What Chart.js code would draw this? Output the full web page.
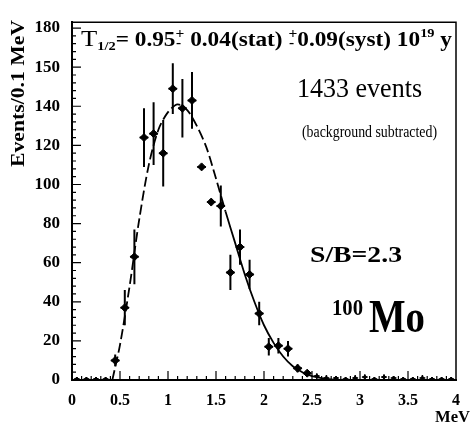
<!DOCTYPE html>
<html>
<head>
<meta charset="utf-8">
<script src="https://cdn.jsdelivr.net/npm/chart.js@4.4.1/dist/chart.umd.min.js"></script>
<style>
  html, body { margin: 0; padding: 0; background: #fff; }
</style>
</head>
<body>
<canvas id="spec" width="471" height="427"></canvas>
<script>
// measured spectrum (bin centres, MeV) and counts per 0.1 MeV
const binX   = [0.45, 0.55, 0.65, 0.75, 0.85, 0.95, 1.05, 1.15, 1.25, 1.35, 1.45, 1.55, 1.65, 1.75, 1.85, 1.95, 2.05, 2.15, 2.25, 2.35, 2.45];
const counts = [10, 37, 63, 124, 126, 116, 149, 139, 143, 109, 91, 89, 55, 68, 54, 34, 17, 17.5, 16, 6, 3.5];
const errs   = [3, 9, 14, 15, 16, 17, 13, 15, 14.5, 1, 1, 10.5, 9, 9, 7.5, 6, 4.5, 4, 4, 2, 1];

// near-zero bins outside the signal region
const tailX   = [0.05, 0.15, 0.25, 0.35, 2.55, 2.65, 2.75, 2.85, 2.95, 3.05, 3.15, 3.25, 3.35, 3.45, 3.55, 3.65, 3.75, 3.85, 3.95];
const tailY   = [0.5, 0.5, 0.5, 0.5, 2, 1, 1, 0.5, 1, 1.5, 0.5, 1.5, 1, 0.5, 0.5, 1, 0.5, 0.5, 0.5];
const tailErr = [1, 1, 1, 1, 1.5, 1.5, 1, 1, 1.5, 1.5, 1, 1.5, 1, 1, 1, 1.5, 1, 1, 1];

// fitted 2nu-bb curve
const fitX = [0.42, 0.5, 0.6, 0.7, 0.8, 0.9, 1.0, 1.1, 1.2, 1.3, 1.4, 1.5, 1.6, 1.7, 1.8, 1.9, 2.0, 2.1, 2.2, 2.3, 2.4, 2.5, 2.6, 2.7, 2.8];
const fitY = [0, 18, 48, 82, 110, 128, 137, 141, 138, 130, 119, 103, 86, 70, 54, 40, 28, 19, 12, 7, 4, 2, 1, 0.3, 0];

// axis ticks (the picture labels the 160 tick as "150")
const xTicks = [0, 0.5, 1, 1.5, 2, 2.5, 3, 3.5, 4];
const xTickLabels = ['0', '0.5', '1', '1.5', '2', '2.5', '3', '3.5', '4'];
const yTicks = [0, 20, 40, 60, 80, 100, 120, 140, 160, 180];
const yTickLabels = ['0', '20', '40', '60', '80', '100', '120', '140', '150', '180'];

const SERIF = '"Liberation Serif", "DejaVu Serif", serif';

const toPts = (xs, ys) => xs.map((x, i) => ({ x: x, y: ys[i] }));

// vertical error bars + bin-width bars
const errorBars = {
  id: 'errorBars',
  afterDatasetsDraw(chart) {
    const { ctx, scales: { x, y } } = chart;
    chart.data.datasets.forEach(ds => {
      if (!ds.errs) return;
      ctx.save();
      ctx.strokeStyle = '#000';
      ctx.lineWidth = ds.errWidth;
      ds.data.forEach((p, i) => {
        const px = x.getPixelForValue(p.x);
        const py = y.getPixelForValue(p.y);
        const e = ds.errs[i];
        ctx.beginPath();
        ctx.moveTo(px, y.getPixelForValue(Math.max(0, p.y - e)));
        ctx.lineTo(px, y.getPixelForValue(p.y + e));
        ctx.moveTo(x.getPixelForValue(p.x - ds.halfBin), py);
        ctx.lineTo(x.getPixelForValue(p.x + ds.halfBin), py);
        ctx.stroke();
      });
      ctx.restore();
    });
  }
};

// inward ticks, frame and annotations
function fitText(ctx, s, x, y, font, width, align) {
  ctx.save();
  ctx.font = font;
  const w = ctx.measureText(s).width;
  const sx = width ? width / w : 1;
  ctx.translate(x, y);
  ctx.scale(sx, 1);
  ctx.textAlign = align || 'left';
  ctx.textBaseline = 'alphabetic';
  ctx.fillText(s, 0, 0);
  ctx.restore();
}

const decorations = {
  id: 'decorations',
  afterDraw(chart) {
    const { ctx, chartArea: a, scales: { x, y } } = chart;
    ctx.save();
    ctx.strokeStyle = '#000';
    ctx.fillStyle = '#000';

    // frame top / right
    ctx.lineWidth = 1.5;
    ctx.beginPath();
    ctx.moveTo(a.left, a.top); ctx.lineTo(a.right, a.top); ctx.lineTo(a.right, a.bottom);
    ctx.stroke();

    // inward ticks
    ctx.lineWidth = 1.2;
    ctx.beginPath();
    for (let k = 1; k < 40; k++) {
      const v = k / 10;
      const px = x.getPixelForValue(v);
      const len = k % 5 === 0 ? 9 : 4;
      ctx.moveTo(px, a.bottom); ctx.lineTo(px, a.bottom - len);
    }
    for (let v = 4; v <= 180; v += 4) {
      const py = y.getPixelForValue(v);
      const len = v % 20 === 0 ? 9 : 4;
      ctx.moveTo(a.left, py); ctx.lineTo(a.left + len, py);
    }
    ctx.stroke();

    // title line  T1/2 = 0.95 +- 0.04(stat) +- 0.09(syst) 10^19 y
    const B = 'bold ';
    const parts = [
      { s: 'T', f: '24px ' + SERIF, dy: 0 },
      { s: '1/2', f: B + '13px ' + SERIF, dy: 4 },
      { s: '= 0.95', f: B + '21px ' + SERIF, dy: 0 },
      { s: 'pm', f: B + '14px ' + SERIF, dy: 0 },
      { s: ' 0.04(stat) ', f: B + '21px ' + SERIF, dy: 0 },
      { s: 'pm', f: B + '14px ' + SERIF, dy: 0 },
      { s: '0.09(syst) 10', f: B + '21px ' + SERIF, dy: 0 },
      { s: '19', f: B + '13px ' + SERIF, dy: -9 },
      { s: ' y', f: B + '21px ' + SERIF, dy: 0 }
    ];
    let total = 0;
    parts.forEach(p => {
      ctx.font = p.f;
      p.w = p.s === 'pm' ? ctx.measureText('+').width : ctx.measureText(p.s).width;
      total += p.w;
    });
    const sx = (452 - 81) / total;
    let cx = 81;
    const base = 46;
    parts.forEach(p => {
      ctx.save();
      ctx.font = p.f;
      ctx.translate(cx, base + p.dy);
      ctx.scale(sx, 1);
      if (p.s === 'pm') {
        ctx.fillText('+', 0, -8);
        ctx.fillText('-', 0.5, 1);
      } else {
        ctx.fillText(p.s, 0, 0);
      }
      ctx.restore();
      cx += p.w * sx;
    });

    fitText(ctx, '1433 events', 297, 97, '28px ' + SERIF, 125);
    fitText(ctx, '(background subtracted)', 302, 137, '16px ' + SERIF, 135);
    fitText(ctx, 'S/B=2.3', 310, 262, 'bold 24px ' + SERIF, 92);
    fitText(ctx, '100', 332, 315, 'bold 24px ' + SERIF, 31);
    fitText(ctx, 'Mo', 369, 332, 'bold 46px ' + SERIF, 56);
    fitText(ctx, 'MeV', 435, 422, 'bold 17px ' + SERIF, 35);

    // y axis title (placed high, as in the picture)
    ctx.save();
    ctx.translate(24, 167);
    ctx.rotate(-Math.PI / 2);
    fitText(ctx, 'Events/0.1 MeV', 0, 0, 'bold 18px ' + SERIF, 147);
    ctx.restore();

    ctx.restore();
  }
};

new Chart(document.getElementById('spec'), {
  type: 'scatter',
  data: {
    datasets: [
      {
        label: 'fit',
        data: toPts(fitX, fitY),
        showLine: true,
        borderColor: '#000',
        borderWidth: 1.8,
        pointRadius: 0,
        tension: 0.3,
        segment: {
          borderDash: c => (c.p0.parsed.x < 1.6 ? [10, 4] : undefined)
        }
      },
      {
        label: 'data',
        data: toPts(binX, counts),
        errs: errs,
        halfBin: 0.045,
        errWidth: 2,
        pointStyle: 'rectRot',
        pointRadius: 4,
        backgroundColor: '#000',
        borderColor: '#000'
      },
      {
        label: 'tail',
        data: toPts(tailX, tailY),
        errs: tailErr,
        halfBin: 0.03,
        errWidth: 1.5,
        pointStyle: 'rectRot',
        pointRadius: 2,
        backgroundColor: '#000',
        borderColor: '#000'
      }
    ]
  },
  options: {
    responsive: false,
    animation: false,
    layout: { padding: { top: 15, right: 13, left: 0, bottom: 0 } },
    plugins: { legend: { display: false }, tooltip: { enabled: false } },
    scales: {
      x: {
        type: 'linear',
        min: 0,
        max: 4,
        afterBuildTicks: s => { s.ticks = xTicks.map(v => ({ value: v })); },
        afterFit: s => { s.height = 47; },
        grid: { display: false, drawTicks: false },
        border: { display: true, color: '#000', width: 2 },
        ticks: {
          padding: 11,
          color: '#000',
          font: { family: SERIF, size: 16, weight: 'bold' },
          maxRotation: 0,
          callback: v => xTickLabels[xTicks.indexOf(v)]
        }
      },
      y: {
        type: 'linear',
        min: 0,
        max: 183,
        afterBuildTicks: s => { s.ticks = yTicks.map(v => ({ value: v })); },
        afterFit: s => { s.width = 72; },
        grid: { display: false, drawTicks: false },
        border: { display: true, color: '#000', width: 2 },
        ticks: {
          padding: 12,
          color: '#000',
          font: { family: SERIF, size: 17, weight: 'bold' },
          callback: v => yTickLabels[yTicks.indexOf(v)]
        }
      }
    }
  },
  plugins: [errorBars, decorations]
});
</script>
</body>
</html>
